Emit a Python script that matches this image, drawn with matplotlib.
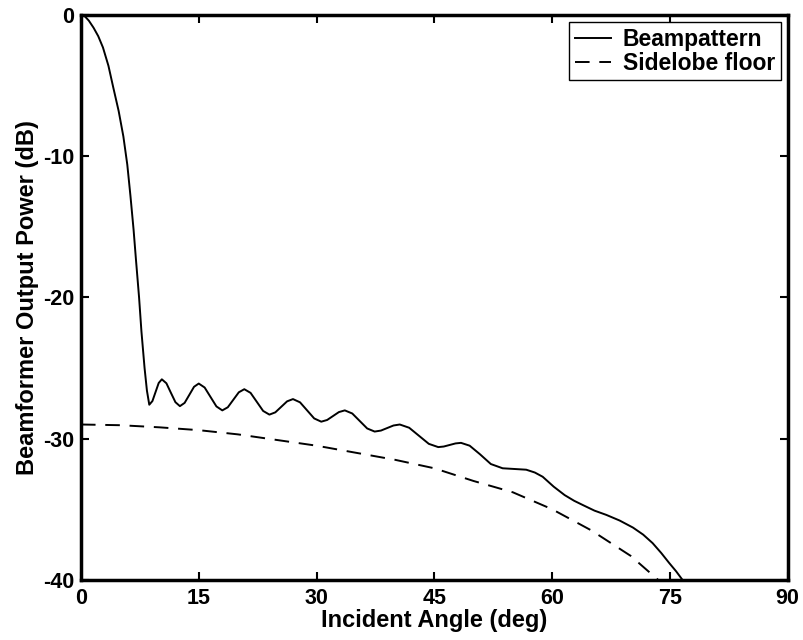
import matplotlib
matplotlib.use("Agg")
import matplotlib.pyplot as plt

plt.rcParams['font.family'] = ['Liberation Sans', 'DejaVu Sans']
plt.rcParams['font.weight'] = 'bold'
plt.rcParams['axes.unicode_minus'] = False

# Beampattern
beam_angle = [0, 0.5, 1.0, 1.6, 2.2, 2.8, 3.5, 4.1, 4.8, 5.4, 5.9, 6.3, 6.7, 7.0, 7.4, 7.7, 8.1, 8.4, 8.7,
              9.1, 9.5, 9.9, 10.3, 10.88, 11.45, 12.03, 12.6, 13.2, 13.8, 14.4, 15.0,
              15.75, 16.5, 17.25, 18.0, 18.7, 19.4, 20.1, 20.8, 21.6, 22.4, 23.2, 24.0,
              24.75, 25.5, 26.25, 27.0, 27.9, 28.8, 29.7, 30.6, 31.35, 32.1, 32.85, 33.6,
              34.55, 35.5, 36.45, 37.4, 38.2, 39.0, 39.8, 40.6, 41.8, 43.05, 44.3, 45.5,
              46.2, 46.95, 47.7, 48.4, 49.5, 50.8, 52.2, 53.7, 55.2, 56.7, 57.8, 58.8,
              60.2, 61.6, 62.8, 63.9, 65.4, 66.9, 68.6, 70.3, 71.6, 72.8, 73.9, 74.9, 75.8, 76.6, 77.4]
beam_db = [0, -0.1, -0.4, -0.9, -1.5, -2.3, -3.6, -5.1, -6.8, -8.6, -10.6, -12.8, -15.2, -17.3, -20.0, -22.4, -25.0, -26.6, -27.6,
           -27.34, -26.7, -26.06, -25.8, -26.08, -26.75, -27.42, -27.7, -27.47, -26.9, -26.33, -26.1,
           -26.38, -27.05, -27.72, -28.0, -27.78, -27.25, -26.72, -26.5, -26.76, -27.4, -28.04, -28.3,
           -28.14, -27.75, -27.36, -27.2, -27.43, -28.0, -28.57, -28.8, -28.68, -28.4, -28.12, -28.0,
           -28.22, -28.75, -29.28, -29.5, -29.43, -29.25, -29.07, -29.0, -29.23, -29.8, -30.37, -30.6,
           -30.56, -30.45, -30.34, -30.3, -30.5, -31.1, -31.8, -32.1, -32.15, -32.2, -32.4, -32.7,
           -33.4, -34.0, -34.4, -34.7, -35.1, -35.4, -35.8, -36.3, -36.8, -37.4, -38.1, -38.8, -39.4, -40.0, -40.6]

# Sidelobe floor
floor_angle = [0, 5, 10, 15, 20, 25, 30, 35, 40, 45, 50, 55, 60, 65, 70, 73.5, 75]
floor_db = [-29.0, -29.05, -29.2, -29.4, -29.7, -30.1, -30.5, -31.0, -31.5, -32.1, -33.0, -33.8, -35.0, -36.5, -38.3, -40.0, -40.9]

x_ticks = [0, 15, 30, 45, 60, 75, 90]
y_ticks = [0, -10, -20, -30, -40]

fig = plt.figure(figsize=(8.04, 6.40), dpi=100)
ax = fig.add_axes([0.1007, 0.094, 0.879, 0.8826])

ax.plot(beam_angle, beam_db, color='black', lw=1.4, label='Beampattern')
ax.plot(floor_angle, floor_db, color='black', lw=1.4, ls=(0, (7.5, 5)), label='Sidelobe floor')

ax.set_xlim(0, 90)
ax.set_ylim(-40, 0)
ax.set_xticks(x_ticks)
ax.set_yticks(y_ticks)
ax.tick_params(direction='in', length=6, width=1.5, top=True, right=True, labelsize=15.5)
ax.tick_params(axis='x', pad=6)
ax.tick_params(axis='y', pad=5)
for lab in ax.get_xticklabels() + ax.get_yticklabels():
    lab.set_fontweight('bold')
for s in ax.spines.values():
    s.set_linewidth(2.5)

ax.set_xlabel('Incident Angle (deg)', fontsize=17, fontweight='bold', labelpad=0)
ax.set_ylabel('Beamformer Output Power (dB)', fontsize=17, fontweight='bold', labelpad=3)

leg = ax.legend(loc='upper right', fancybox=False, framealpha=1, edgecolor='black',
                prop={'weight': 'bold', 'size': 16.5}, borderaxespad=0.3, handlelength=1.6,
                handletextpad=0.5, borderpad=0.25, labelspacing=0.05)
leg.get_frame().set_linewidth(1.0)

fig.savefig('out.png', dpi=100)
